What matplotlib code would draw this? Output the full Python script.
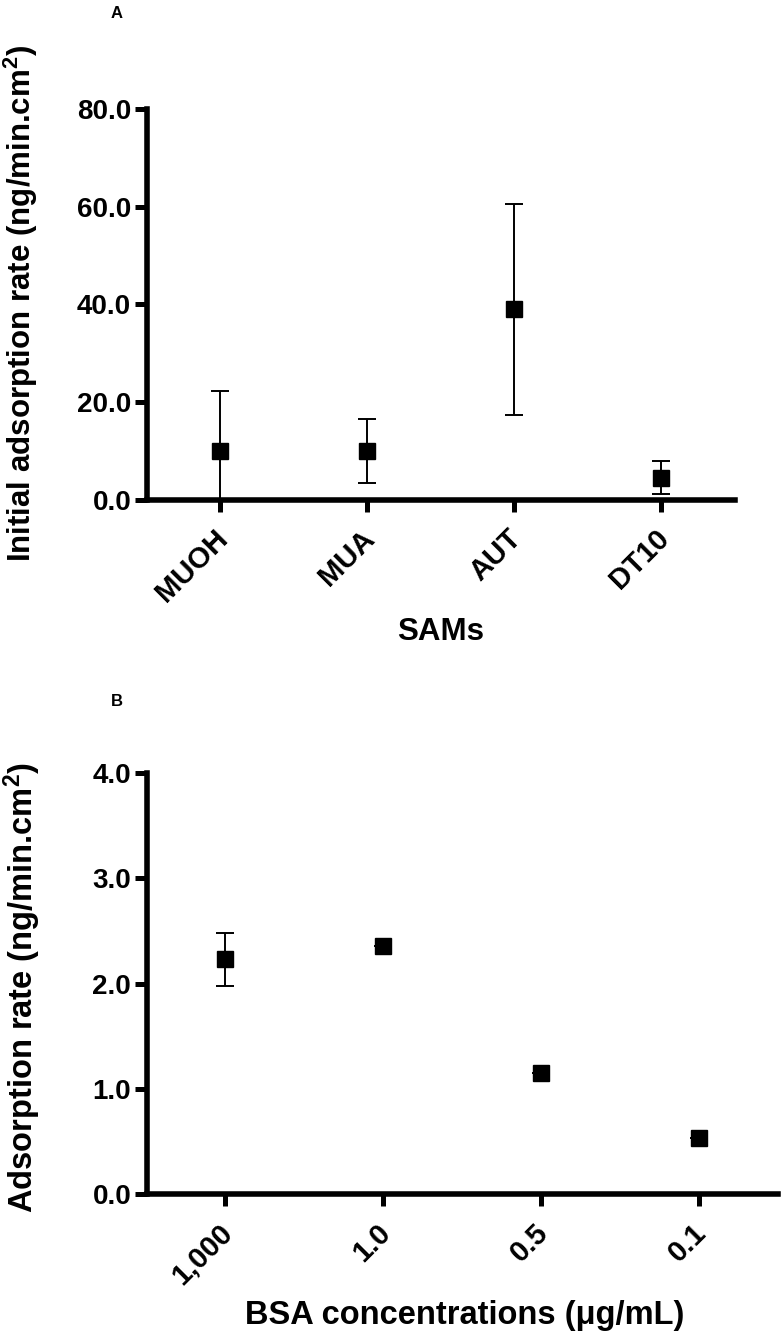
import matplotlib
matplotlib.use("Agg")
import matplotlib.pyplot as plt
import matplotlib.transforms as mtransforms
import numpy as np

# ---- Data ----
sams = ["MUOH", "MUA", "AUT", "DT10"]
sams_rate = [10.0, 10.0, 39.0, 4.6]
sams_err = [12.3, 6.6, 21.6, 3.4]

bsa_labels = ["1,000", "1.0", "0.5", "0.1"]
bsa_rate = [2.23, 2.36, 1.15, 0.53]
bsa_err = [0.25, 0.0, 0.0, 0.0]

a_yticks = [0, 20, 40, 60, 80]
b_yticks = [0, 1, 2, 3, 4]

plt.rcParams['font.family'] = ['Liberation Sans', 'DejaVu Sans']
plt.rcParams['font.weight'] = 'bold'
plt.rcParams['mathtext.fontset'] = 'custom'
plt.rcParams['mathtext.rm'] = 'Liberation Sans:bold'
plt.rcParams['mathtext.it'] = 'Liberation Sans:bold'
plt.rcParams['mathtext.bf'] = 'Liberation Sans:bold'

fig = plt.figure(figsize=(7.81, 13.42), dpi=100)
W, H = 781, 1342

def ax_rect(l, r, t, b):
    return [l / W, 1 - b / H, (r - l) / W, (b - t) / H]

axA = fig.add_axes(ax_rect(146.5, 735, 109, 500))
axB = fig.add_axes(ax_rect(146.5, 778, 773, 1194))

YTICK_FS = 20
XTICK_FS = 21
LABEL_FS = 22.5

def style(ax):
    for s in ['top', 'right']:
        ax.spines[s].set_visible(False)
    for s in ['left', 'bottom']:
        ax.spines[s].set_linewidth(4.0)
        ax.spines[s].set_capstyle('projecting')
    ax.tick_params(axis='y', which='major', direction='out', length=8.5,
                   width=3.6, labelsize=YTICK_FS, pad=2.5, color='black')
    ax.tick_params(axis='x', which='major', direction='out', length=8.5,
                   width=3.6, labelsize=XTICK_FS, pad=9, color='black')
    ax.set_xlim(-0.5, 3.5)

def shift_xlabels(ax):
    off = mtransforms.ScaledTranslation(-5 / 72, 0, fig.dpi_scale_trans)
    for lab in ax.get_xticklabels():
        lab.set_transform(lab.get_transform() + off)

# Panel A
xa = np.arange(len(sams))
axA.errorbar(xa, sams_rate, yerr=sams_err, fmt='s', color='black',
             markersize=11, ecolor='black', elinewidth=1.4, capsize=6.2,
             capthick=1.4, zorder=3)
style(axA)
axA.set_ylim(0, 80)
axA.set_yticks(a_yticks)
axA.set_yticklabels([f"{v:.1f}" for v in a_yticks], fontweight='bold')
axA.set_xticks(xa)
axA.set_xticklabels(sams, rotation=45, ha='right', va='top',
                    rotation_mode='anchor', fontweight='bold')
shift_xlabels(axA)
axA.set_xlabel("SAMs", fontsize=LABEL_FS, fontweight='bold')
axA.xaxis.set_label_coords(0.5, -0.298)
axA.set_ylabel(r"Initial adsorption rate (ng/min.cm$^2$)", fontsize=LABEL_FS,
               fontweight='bold')
axA.yaxis.set_label_coords(-0.181, 0.504)

# Panel B
xb = np.arange(len(bsa_labels))
axB.errorbar(xb, bsa_rate, yerr=bsa_err, fmt='s', color='black',
             markersize=11.5, ecolor='black', elinewidth=1.4, capsize=6.2,
             capthick=1.4, zorder=3)
style(axB)
axB.set_ylim(0, 4)
axB.set_yticks(b_yticks)
axB.set_yticklabels([f"{v:.1f}" for v in b_yticks], fontweight='bold')
axB.set_xticks(xb)
axB.set_xticklabels(bsa_labels, rotation=45, ha='right', va='top',
                    rotation_mode='anchor', fontweight='bold')
shift_xlabels(axB)
axB.set_xlabel("BSA concentrations (\u03bcg/mL)", fontsize=LABEL_FS + 1,
               fontweight='bold')
axB.xaxis.set_label_coords(0.504, -0.252)
axB.set_ylabel(r"Adsorption rate (ng/min.cm$^2$)", fontsize=LABEL_FS + 1,
               fontweight='bold')
axB.yaxis.set_label_coords(-0.164, 0.49)

fig.text(117 / W, 1 - 14 / H, "A", fontsize=12, fontweight='bold',
         ha='center', va='center')
fig.text(117 / W, 1 - 702 / H, "B", fontsize=12, fontweight='bold',
         ha='center', va='center')

fig.savefig("out.png", dpi=100, facecolor='white')
